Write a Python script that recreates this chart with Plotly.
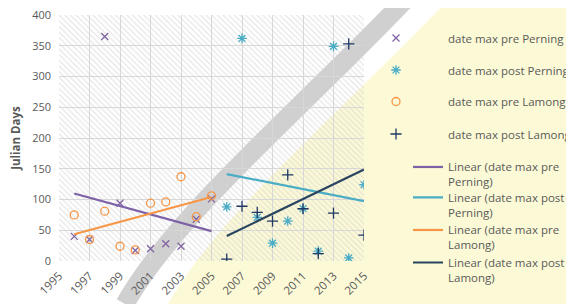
import numpy as np
import plotly.graph_objects as go

# ---------------- data ----------------
years_pre = [1996, 1997, 1998, 1999, 2000, 2001, 2002, 2003, 2004, 2005]
years_post = [2006, 2007, 2008, 2009, 2010, 2011, 2012, 2013, 2014, 2015]

pre_perning = [40, 35, 365, 94, 17, 20, 28, 24, 68, 101]
post_perning = [88, 362, 71, 29, 65, 85, 16, 349, 5, 124]
pre_lamong = [75, 35, 81, 24, 18, 94, 96, 137, 72, 106]
post_lamong = [3, 89, 79, 65, 140, 85, 12, 78, 353, 42]

series_names = ["date max pre Perning", "date max post Perning",
                "date max pre Lamong", "date max post Lamong"]
trend_names = ["Linear (date max pre<br>Perning)", "Linear (date max post<br>Perning)",
               "Linear (date max pre<br>Lamong)", "Linear (date max post<br>Lamong)"]

x_tick_vals = list(range(1995, 2016, 2))
y_tick_vals = list(range(0, 401, 50))
X_MIN, X_MAX = 1995, 2015
Y_MIN, Y_MAX = 0, 400

# ---------------- style ----------------
WIN_W, WIN_H = 574, 304
OFF = 8                      # page body margin of the browser
W, H = WIN_W - OFF, WIN_H - OFF
# plot area box in window pixels
PL, PR, PT, PB = 59, 364, 15, 261
FONT = "Open Sans, Liberation Sans, sans-serif"
TXT = "#595959"

def px_x(p):
    return (p - PL) / (PR - PL)

def px_y(p):
    return (PB - p) / (PB - PT)

def pth(points, cmds):
    out = []
    for c, pts in zip(cmds, points):
        out.append(c + " ".join(f"{px_x(x):.4f},{px_y(y):.4f}" for x, y in pts))
    return " ".join(out)

marker_cols = ["#8064A2", "#4BACC6", "#F79646", "#1F3864"]
trend_cols = ["#7E62A8", "#4BACC6", "#F79646", "#2A4560"]
symbols = ["x-thin", "asterisk-open", "circle-open", "cross-thin"]
sizes = [7, 8, 8, 8]

fig = go.Figure()

# hatched plot background
fig.add_trace(go.Scatter(
    x=[X_MIN, X_MAX, X_MAX, X_MIN, X_MIN], y=[Y_MIN, Y_MIN, Y_MAX, Y_MAX, Y_MIN],
    mode="none", fill="toself", fillcolor="rgba(0,0,0,0)",
    fillpattern=dict(shape="\\", fgcolor="#cdcdcd", bgcolor="rgba(0,0,0,0)",
                     size=4, solidity=0.3),
    showlegend=False, hoverinfo="skip"))

data_sets = [(years_pre, pre_perning), (years_post, post_perning),
             (years_pre, pre_lamong), (years_post, post_lamong)]

legend_names = ["legend", "legend2", "legend3", "legend4",
                "legend5", "legend6", "legend7", "legend8"]

for i, (xs, ys) in enumerate(data_sets):
    fig.add_trace(go.Scatter(
        x=xs, y=ys, mode="markers", name=series_names[i],
        marker=dict(symbol=symbols[i], size=sizes[i], color=marker_cols[i],
                    line=dict(width=1.3, color=marker_cols[i])),
        legend=legend_names[i]))

for i, (xs, ys) in enumerate(data_sets):
    xa = np.array(xs, dtype=float)
    ya = np.array(ys, dtype=float)
    m, b = np.polyfit(xa, ya, 1)
    xe = np.array([xa.min(), xa.max()])
    fig.add_trace(go.Scatter(
        x=xe, y=m * xe + b, mode="lines", name=trend_names[i],
        line=dict(color=trend_cols[i], width=2.2),
        legend=legend_names[4 + i]))

layout_legends = {}
marker_rows = [38, 70, 101.5, 134]
line_rows = [168, 198.5, 231, 263.5]
for i in range(4):
    layout_legends[legend_names[i]] = dict(
        x=px_x(344), y=px_y(marker_rows[i]), xanchor="left", yanchor="middle",
        itemwidth=94, bgcolor="rgba(0,0,0,0)",
        font=dict(family=FONT, size=11.5, color=TXT))
for i in range(4):
    layout_legends[legend_names[4 + i]] = dict(
        x=px_x(408), y=px_y(line_rows[i] - 15), xanchor="left", yanchor="top",
        itemwidth=30, valign="top", bgcolor="rgba(0,0,0,0)",
        font=dict(family=FONT, size=11.5, color=TXT))

# watermark approximation (window pixel coordinates -> paper)
yellow = pth([[(168, 304)], [(218, 215), (343, 110), (448, 0)],
              [(574, 0)], [(574, 304)]], ["M", "C", "L", "L"]) + " Z"
band = pth([[(125, 304)], [(175, 215), (300, 110), (405, 0)]], ["M", "C"])

shapes = [
    dict(type="path", xref="paper", yref="paper", path=yellow, layer="below",
         fillcolor="#FCF9D6", line=dict(width=0)),
    dict(type="path", xref="paper", yref="paper", path=band, layer="below",
         fillcolor="rgba(0,0,0,0)", line=dict(width=19, color="rgba(170,170,170,0.55)")),
]

fig.update_layout(
    width=W, height=H,
    margin=dict(l=PL - OFF, r=W - (PR - OFF), t=PT - OFF, b=H - (PB - OFF),
                autoexpand=False),
    paper_bgcolor="white", plot_bgcolor="rgba(0,0,0,0)",
    font=dict(family=FONT, size=12, color=TXT),
    shapes=shapes,
    xaxis=dict(range=[X_MIN, X_MAX], tickvals=x_tick_vals, tickangle=-45,
               showgrid=True, gridcolor="#d9d9d9", gridwidth=1, zeroline=False,
               showline=False, ticks="", tickfont=dict(size=11.5, color=TXT),
               ticklabeloverflow="allow", ticklabelstandoff=5),
    yaxis=dict(range=[Y_MIN, Y_MAX], tickvals=y_tick_vals,
               showgrid=True, gridcolor="#d9d9d9", gridwidth=1, zeroline=False,
               showline=False, ticks="", tickfont=dict(size=11, color=TXT),
               ticklabeloverflow="allow", ticklabelstandoff=7,
               title=dict(text="<b>Julian Days</b>", font=dict(size=11.5, color=TXT),
                          standoff=14)),
    **layout_legends,
)

fig.write_html("out.html")
